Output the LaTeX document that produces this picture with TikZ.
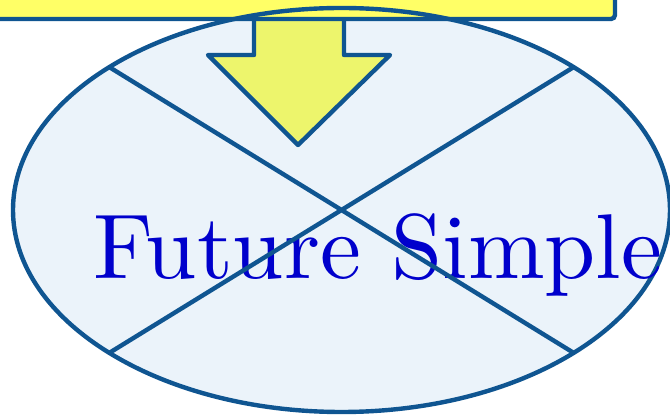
\documentclass[tikz,border=0pt]{standalone}
\usepackage{fontspec}
\usepackage{tikz}
\usetikzlibrary{shapes.geometric, positioning}
\newfontfamily\tenserm{lmroman10-regular.otf}
\definecolor{lineblue}{RGB}{15,85,145}
\definecolor{fillblue}{RGB}{235,243,250}
\definecolor{boxyellow}{RGB}{255,255,102}
\definecolor{arrowyellow}{RGB}{237,245,108}
\definecolor{textblue}{RGB}{0,0,204}
\tikzset{
    tensebox/.style={rectangle, rounded corners=2pt, draw=lineblue, line width=2.2pt,
                     fill=boxyellow, minimum width=318pt, minimum height=29.5pt},
    tenseoval/.style={ellipse, fill=fillblue, minimum width=328.5pt,
                      minimum height=202pt, inner sep=0pt},
    ovalline/.style={draw=lineblue, line width=2.2pt},
    blockarrow/.style={draw=lineblue, fill=arrowyellow, line width=2.2pt, line join=round},
    tenselabel/.style={font=\tenserm\fontsize{46}{50}\selectfont, text=textblue, inner sep=0pt},
}

\begin{document}
\begin{tikzpicture}[x=0.5pt, y=-0.5pt]
    \useasboundingbox (0,0) rectangle (670,416);

    % Oval with the tense
    \node[tenseoval] (oval) at (341.5,210) {};

    % Arrow from the box down into the oval
    \coordinate (tip) at (298,145);
    \draw[blockarrow] (254,15) -- (254,55) -- (208,55) -- (tip)
        -- (390,55) -- (344,55) -- (344,15) -- cycle;

    % Box above
    \node[tensebox] (box) at (297,-10.5) {};

    % Oval border on top of the box
    \draw[ovalline] (oval.center) ellipse [x radius=164.25pt, y radius=101pt];

    % Label
    \node[tenselabel, anchor=base west] (tense) at (93,279) {Future Simple};

    % Crossing out
    \draw[ovalline] (oval.north west) -- (oval.south east);
    \draw[ovalline] (oval.north east) -- (oval.south west);
\end{tikzpicture}
\end{document}
